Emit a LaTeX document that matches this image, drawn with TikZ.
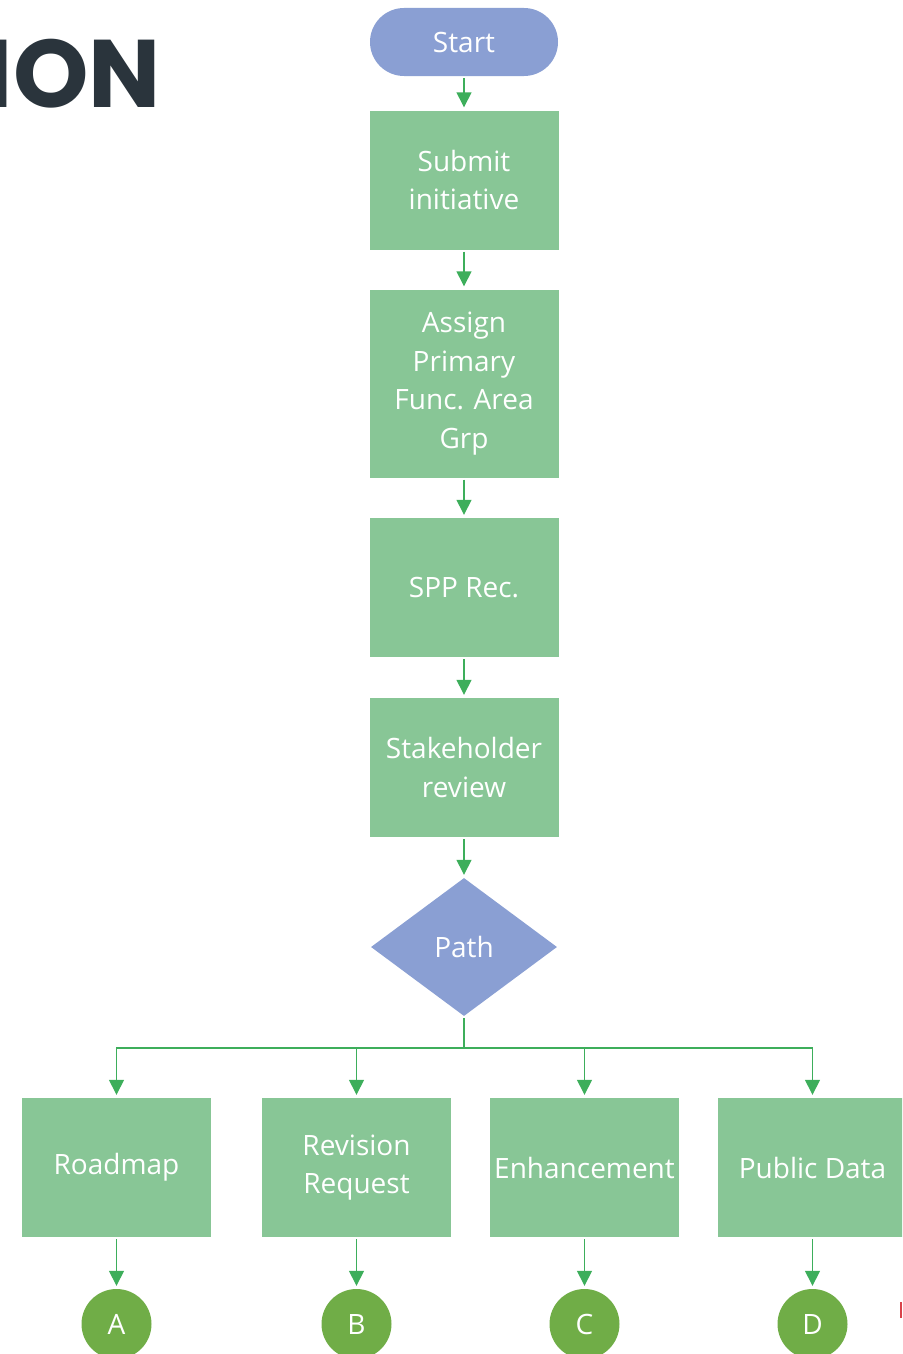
\documentclass[tikz,border=0pt]{standalone}
\usepackage{fontspec}
\setmainfont{Open Sans}
\newfontfamily\titlefont{Poppins}
\usetikzlibrary{shapes.geometric, arrows.meta}

\definecolor{startblue}{HTML}{8A9FD3}
\definecolor{boxgreen}{HTML}{88C696}
\definecolor{arrowgreen}{HTML}{3DAE5B}
\definecolor{endgreen}{HTML}{70AD47}
\definecolor{titledark}{HTML}{2A343C}
\definecolor{edgered}{HTML}{D9434B}

\tikzset{
  label font/.style={text=white, font=\fontsize{28}{38.5}\selectfont},
  startnode/.style={rectangle, rounded corners=34pt, fill=startblue, minimum width=188pt,
    minimum height=68pt, inner sep=0pt, label font},
  flowbox/.style={rectangle, fill=boxgreen, minimum width=189pt, minimum height=139pt,
    inner sep=0pt, align=center, label font},
  decision/.style={diamond, fill=startblue, minimum width=186pt, minimum height=138pt,
    aspect=1.35, inner sep=0pt, label font},
  endpoint/.style={circle, fill=endgreen, minimum size=70pt, inner sep=0pt, label font},
  flowline/.style={draw=arrowgreen, line width=1.4pt},
  arr/.style={flowline, -{Triangle[length=15pt,width=15pt]}, shorten >=3pt, shorten <=2pt},
}

\begin{document}
\begin{tikzpicture}[x=1pt, y=-1pt]
  \useasboundingbox (0,0) rectangle (902,1354);
  \clip (0,0) rectangle (902,1354);

  % heading fragment
  \node[anchor=base east, inner sep=0pt, text=titledark,
        font=\titlefont\bfseries\fontsize{96}{96}\selectfont] (title) at (161,107) {ION};

  % main column
  \node[startnode] (start) at (464,42) {Start};
  \node[flowbox] (submit) at (464,180) {Submit\\initiative};
  \node[flowbox, minimum height=188pt] (assign) at (464,383.5) {Assign\\Primary\\Func. Area\\Grp};
  \node[flowbox] (spp) at (464,587.5) {SPP Rec.};
  \node[flowbox] (stake) at (464,767.5) {Stakeholder\\review};
  \node[decision] (path) at (464,947) {Path};
  \coordinate (split) at (464,1048);

  % branches
  \node[flowbox] (road) at (116.5,1167.5) {Roadmap};
  \node[flowbox] (rev) at (356.5,1167.5) {Revision\\Request};
  \node[flowbox] (enh) at (584.5,1167.5) {Enhancement};
  \node[flowbox] (pub) at (812.5,1167.5) {Public Data};

  % connectors
  \node[endpoint] (a) at (116.5,1324) {A};
  \node[endpoint] (b) at (356.5,1324) {B};
  \node[endpoint] (c) at (584.5,1324) {C};
  \node[endpoint] (d) at (812.5,1324) {D};

  \draw[arr] (start) -- (submit);
  \draw[arr] (submit) -- (assign);
  \draw[arr] (assign) -- (spp);
  \draw[arr] (spp) -- (stake);
  \draw[arr] (stake) -- (path);
  \draw[flowline, shorten <=2pt] (path.south) -- (split);
  \foreach \t in {road, rev, enh, pub}
    \draw[arr, shorten <=0pt] (split) -| (\t.north);
  \draw[arr] (road) -- (a);
  \draw[arr] (rev) -- (b);
  \draw[arr] (enh) -- (c);
  \draw[arr] (pub) -- (d);

  % sliver at the right edge
  \fill[edgered] (900,1302) rectangle (902,1318);
\end{tikzpicture}
\end{document}
